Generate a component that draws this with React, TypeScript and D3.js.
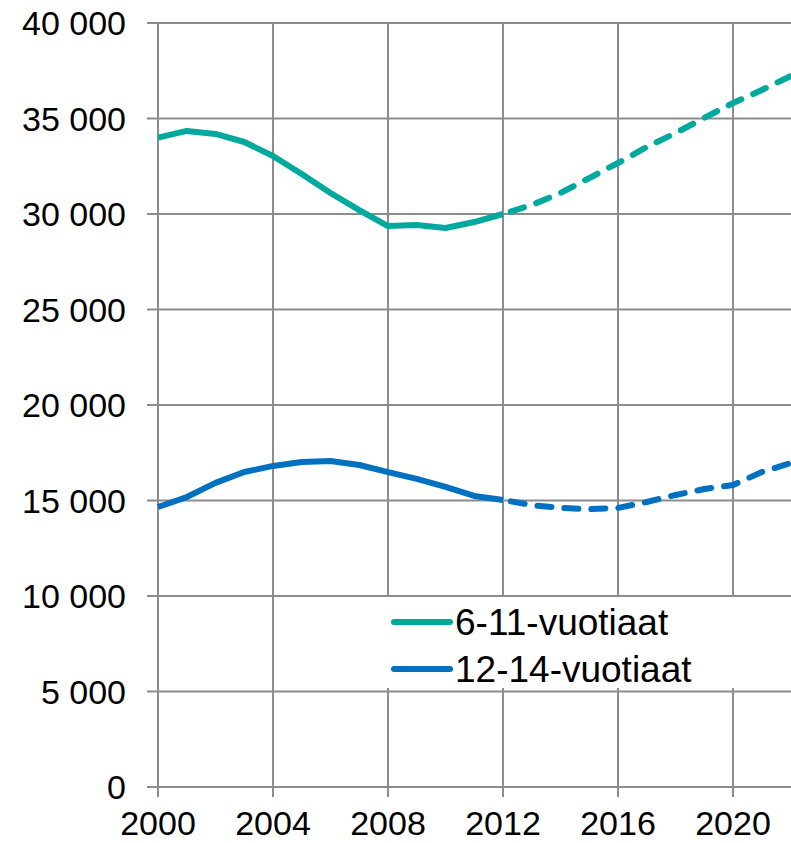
import React, { useEffect, useRef } from "react";
import * as d3 from "d3";

const years = [
  2000, 2001, 2002, 2003, 2004, 2005, 2006, 2007, 2008, 2009, 2010, 2011,
  2012, 2013, 2014, 2015, 2016, 2017, 2018, 2019, 2020, 2021, 2022,
];
const age6to11 = [
  34000, 34350, 34190, 33770, 33040, 32090, 31100, 30200, 29370, 29420,
  29270, 29580, 30000, 30470, 31100, 31880, 32670, 33510, 34240, 35030,
  35810, 36490, 37220,
];
const age12to14 = [
  14660, 15180, 15920, 16490, 16810, 17020, 17070, 16860, 16490, 16130,
  15710, 15240, 15030, 14760, 14610, 14550, 14610, 14920, 15290, 15600,
  15810, 16490, 16960,
];
const lastActual = 2012;
const yTicks = [0, 5000, 10000, 15000, 20000, 25000, 30000, 35000, 40000];
const xTicks = [2000, 2004, 2008, 2012, 2016, 2020];
const seriesNames = ["6-11-vuotiaat", "12-14-vuotiaat"];
const colors = ["#00A99D", "#0070C0"];

export default function App() {
  const ref = useRef<SVGSVGElement>(null);

  useEffect(() => {
    const width = 791,
      height = 843;
    const margin = { top: 23, right: 0, bottom: 56, left: 158 };
    const svg = d3.select(ref.current);
    svg.selectAll("*").remove();

    const x = d3.scaleLinear().domain([2000, 2022]).range([margin.left, width - 0.5]);
    const y = d3.scaleLinear().domain([0, 40000]).range([height - margin.bottom, margin.top]);
    const font = "'Liberation Sans', Arial, sans-serif";
    const grid = "#8c8c8c";

    // horizontal grid + y labels
    svg
      .append("g")
      .selectAll("line")
      .data(yTicks)
      .enter()
      .append("line")
      .attr("x1", margin.left - 11)
      .attr("x2", width)
      .attr("y1", (d) => y(d))
      .attr("y2", (d) => y(d))
      .attr("stroke", grid)
      .attr("stroke-width", 2);

    svg
      .append("g")
      .selectAll("text")
      .data(yTicks)
      .enter()
      .append("text")
      .attr("x", 126)
      .attr("y", (d) => y(d))
      .attr("dy", "0.36em")
      .attr("text-anchor", "end")
      .attr("font-family", font)
      .attr("font-size", 34)
      .text((d) => d3.format(",")(d).replace(/,/g, " "));

    // vertical grid + x labels
    svg
      .append("g")
      .selectAll("line")
      .data(xTicks)
      .enter()
      .append("line")
      .attr("x1", (d) => x(d))
      .attr("x2", (d) => x(d))
      .attr("y1", y(40000))
      .attr("y2", y(0) + 10)
      .attr("stroke", grid)
      .attr("stroke-width", 2);

    svg
      .append("g")
      .selectAll("text")
      .data(xTicks)
      .enter()
      .append("text")
      .attr("x", (d) => x(d))
      .attr("y", 835)
      .attr("text-anchor", "middle")
      .attr("font-family", font)
      .attr("font-size", 34)
      .text((d) => d);

    // legend box
    svg
      .append("rect")
      .attr("x", 356)
      .attr("y", 597)
      .attr("width", 401)
      .attr("height", 91)
      .attr("fill", "white");

    const series = [age6to11, age12to14];
    const line = d3
      .line<[number, number]>()
      .x((d) => x(d[0]))
      .y((d) => y(d[1]));

    series.forEach((vals, i) => {
      const pts: [number, number][] = years.map((yr, j) => [yr, vals[j]]);
      const actual = pts.filter((p) => p[0] <= lastActual);
      const proj = pts.filter((p) => p[0] >= lastActual);
      svg
        .append("path")
        .attr("d", line(actual))
        .attr("fill", "none")
        .attr("stroke", colors[i])
        .attr("stroke-width", 6)
        .attr("stroke-linejoin", "round");
      svg
        .append("path")
        .attr("d", line(proj))
        .attr("fill", "none")
        .attr("stroke", colors[i])
        .attr("stroke-width", 6)
        .attr("stroke-linecap", "round")
        .attr("stroke-dasharray", "14 13")
        .attr("stroke-dashoffset", -8);
    });

    // legend
    seriesNames.forEach((name, i) => {
      const ly = 622 + i * 47;
      svg
        .append("line")
        .attr("x1", 394)
        .attr("x2", 450)
        .attr("y1", ly)
        .attr("y2", ly)
        .attr("stroke", colors[i])
        .attr("stroke-width", 6)
        .attr("stroke-linecap", "round");
      svg
        .append("text")
        .attr("x", 455)
        .attr("y", ly)
        .attr("dy", "0.36em")
        .attr("font-family", font)
        .attr("font-size", 37)
        .text(name);
    });
  }, []);

  return (
    <svg
      ref={ref}
      width={791}
      height={843}
      style={{ position: "absolute", left: 0, top: 0, background: "white" }}
    />
  );
}
